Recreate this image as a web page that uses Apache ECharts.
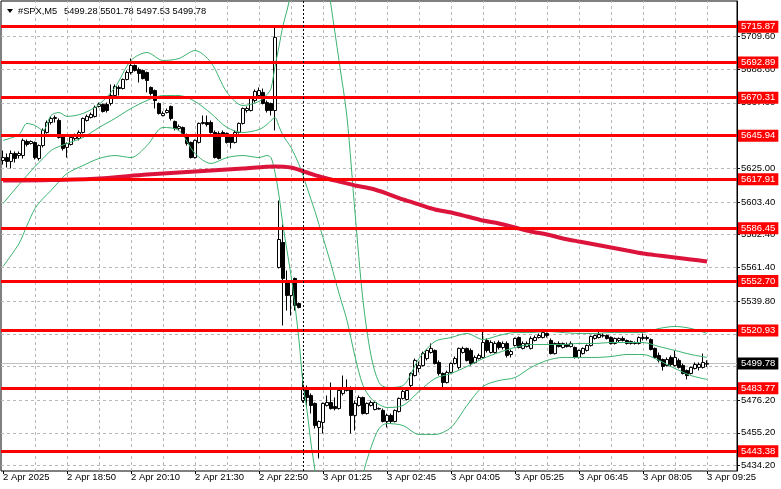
<!DOCTYPE html>
<html>
<head>
<meta charset="utf-8">
<script src="https://cdn.jsdelivr.net/npm/echarts@6/dist/echarts.min.js"></script>
<style>html,body{margin:0;padding:0;background:#fff}#c{width:781px;height:489px}</style>
</head>
<body>
<div id="c"></div>
<script>
// ---------- data ----------
const symbolName = '#SPX,M5';
const xTickLabels = ['2 Apr 2025','2 Apr 18:50','2 Apr 20:10','2 Apr 21:30','2 Apr 22:50','3 Apr 01:25','3 Apr 02:45','3 Apr 04:05','3 Apr 05:25','3 Apr 06:45','3 Apr 08:05','3 Apr 09:25'];
const yTickValues = [5709.60,5688.60,5667.00,5646.00,5625.00,5603.40,5582.40,5561.40,5539.80,5518.80,5497.80,5476.20,5455.20,5434.20];
const levels = [5715.87,5692.89,5670.31,5645.94,5617.91,5586.45,5552.70,5520.93,5483.77,5443.38];
const yMin = 5430.73, yMax = 5732.38;
const separatorBar = 75;
const chartShiftBars = 7;
const sessions = [{day:'2 Apr', start:17*60+30, bars:75},{day:'3 Apr', start:60, bars:102}];

const opens = [
5630.0,5631.9,5629.4,5634.5,5633.2,5633.2,5642.2,5640.9,5641.6,5631.3,
5639.6,5648.0,5654.4,5657.0,5655.7,5646.1,5638.4,5640.3,5644.1,5644.1,
5648.0,5655.7,5657.6,5658.3,5664.7,5666.0,5666.0,5666.6,5671.7,5676.9,
5676.2,5682.0,5686.5,5691.0,5688.4,5687.8,5686.5,5676.9,5674.9,5666.6,
5658.9,5660.8,5664.7,5655.0,5650.6,5651.2,5646.1,5641.6,5631.9,5641.6,
5653.8,5654.4,5654.4,5648.0,5647.3,5648.0,5647.3,5646.1,5641.6,5648.0,
5653.8,5662.1,5662.1,5668.5,5671.7,5673.7,5667.2,5666.6,5662.1,5561.3,
5577.4,5553.0,5543.4,5554.3,5538.2,5476.0,5483.7,5479.2,5474.1,5458.7,
5461.9,5472.8,5474.7,5472.1,5470.8,5480.5,5482.4,5484.3,5466.4,5472.8,
5477.9,5467.6,5472.8,5470.2,5470.8,5469.6,5462.5,5466.4,5462.5,5468.9,
5477.3,5476.6,5485.6,5492.0,5496.5,5498.4,5502.9,5506.8,5508.1,5500.4,
5493.3,5487.5,5494.0,5499.7,5497.2,5506.8,5509.4,5508.1,5500.4,5502.9,
5503.6,5514.5,5506.8,5506.8,5513.2,5510.0,5512.6,5505.5,5511.3,5516.4,
5509.4,5510.6,5509.4,5514.5,5516.4,5516.4,5519.0,5514.5,5506.1,5512.6,
5510.0,5511.9,5510.6,5510.0,5503.6,5506.1,5508.1,5511.3,5515.8,5516.4,
5517.7,5517.7,5516.4,5512.6,5514.5,5515.8,5514.5,5512.6,5513.2,5512.6,
5515.8,5516.4,5515.1,5509.4,5504.9,5502.3,5498.4,5503.6,5498.4,5501.7,
5498.4,5495.2,5493.3,5496.5,5497.2,5497.2,5499.28];
const closes = [
5631.9,5629.4,5634.5,5631.3,5634.5,5642.9,5640.3,5642.2,5631.9,5639.6,
5649.3,5654.4,5657.0,5657.6,5644.8,5637.7,5640.9,5644.8,5646.1,5648.0,
5657.0,5658.3,5659.5,5664.0,5666.0,5661.5,5662.1,5671.7,5677.5,5676.2,
5682.0,5686.5,5691.0,5687.8,5685.9,5682.6,5681.4,5673.0,5668.5,5660.2,
5660.2,5662.1,5657.0,5650.6,5651.8,5647.3,5640.9,5631.9,5642.9,5653.8,
5654.4,5653.1,5648.0,5631.9,5631.3,5646.1,5641.6,5641.6,5648.0,5653.8,
5663.4,5663.4,5669.8,5674.3,5674.9,5666.6,5662.1,5662.1,5709.0,5579.3,
5554.3,5543.4,5551.7,5537.0,5535.7,5484.3,5477.9,5472.8,5459.9,5462.5,
5474.1,5474.7,5470.8,5470.8,5482.4,5484.3,5484.3,5466.4,5474.1,5477.9,
5467.6,5474.1,5474.7,5474.7,5470.5,5462.5,5466.4,5462.5,5469.6,5477.3,
5481.8,5482.4,5493.3,5501.7,5498.4,5506.1,5508.1,5509.4,5499.7,5493.3,
5487.5,5494.0,5499.7,5502.9,5509.4,5509.4,5501.7,5499.7,5503.6,5504.9,
5513.2,5508.1,5513.2,5512.6,5510.0,5512.6,5504.9,5507.4,5515.8,5510.0,
5512.6,5512.6,5515.8,5516.4,5517.7,5519.6,5517.7,5506.1,5512.6,5510.6,
5512.6,5510.6,5512.6,5503.6,5508.1,5509.4,5511.3,5517.1,5517.7,5518.3,
5517.4,5515.8,5512.6,5515.8,5515.8,5514.5,5512.6,5513.9,5512.6,5516.4,
5516.4,5515.8,5508.7,5503.6,5501.7,5497.8,5502.3,5499.1,5503.6,5497.2,
5493.3,5492.0,5497.2,5499.1,5499.1,5500.4,5499.78];
const highs = [
5636.4,5634.5,5636.4,5635.8,5635.8,5644.1,5643.5,5642.9,5642.2,5640.3,
5650.6,5655.7,5658.3,5658.9,5657.0,5646.7,5641.6,5645.4,5647.3,5649.3,
5657.6,5659.5,5660.8,5665.3,5667.2,5666.6,5667.2,5678.8,5678.8,5678.2,
5682.6,5687.8,5695.5,5691.6,5689.7,5688.4,5687.1,5677.5,5675.6,5667.2,
5661.5,5663.4,5665.3,5655.7,5653.1,5651.8,5647.3,5642.2,5643.5,5654.4,
5658.9,5658.9,5655.7,5649.3,5648.7,5649.3,5648.0,5646.7,5649.3,5654.4,
5664.0,5664.7,5671.1,5675.6,5676.9,5676.2,5668.5,5667.2,5715.4,5604.3,
5588.9,5559.4,5553.0,5554.9,5538.9,5493.3,5485.6,5480.5,5474.7,5463.2,
5474.7,5479.2,5487.5,5477.9,5483.7,5492.0,5489.5,5485.0,5476.0,5479.2,
5478.5,5474.7,5476.0,5475.4,5471.5,5470.8,5467.6,5467.6,5470.2,5477.9,
5483.1,5483.7,5494.0,5502.9,5501.0,5507.4,5508.7,5512.6,5508.7,5501.7,
5494.0,5495.2,5500.4,5504.2,5510.0,5510.6,5510.0,5509.4,5504.9,5506.1,
5520.3,5515.8,5514.5,5513.9,5514.5,5513.9,5513.9,5508.7,5516.4,5517.1,
5513.9,5513.9,5517.1,5517.7,5519.0,5520.3,5519.6,5515.8,5513.2,5513.9,
5513.2,5513.2,5513.9,5510.6,5508.7,5510.0,5511.9,5517.7,5518.3,5520.3,
5519.0,5518.3,5517.1,5516.4,5516.4,5517.1,5515.1,5514.5,5513.9,5517.1,
5519.0,5517.7,5515.8,5510.0,5506.8,5502.9,5503.6,5504.9,5508.1,5502.9,
5499.7,5495.9,5497.8,5500.4,5500.4,5506.1,5501.78];
const lows = [
5627.4,5625.5,5624.9,5628.7,5631.3,5631.3,5639.0,5640.3,5630.7,5630.0,
5638.4,5647.3,5653.1,5654.4,5644.1,5636.4,5631.9,5639.6,5642.9,5642.9,
5647.3,5655.0,5657.0,5657.6,5664.0,5660.8,5660.8,5665.3,5671.1,5671.7,
5675.6,5681.4,5685.2,5687.1,5680.1,5682.0,5673.7,5671.7,5663.4,5659.5,
5658.3,5660.2,5655.7,5649.3,5649.3,5646.1,5639.6,5631.3,5631.3,5640.9,
5653.1,5651.8,5647.3,5631.3,5630.7,5645.4,5640.9,5637.7,5640.9,5647.3,
5653.1,5660.8,5661.5,5667.2,5671.1,5666.0,5660.8,5658.9,5649.3,5560.7,
5524.1,5533.7,5530.5,5533.7,5535.1,5474.7,5471.5,5467.6,5458.0,5438.8,
5454.8,5472.1,5470.2,5469.6,5470.2,5479.2,5481.8,5454.8,5456.7,5472.1,
5467.0,5467.0,5472.1,5469.6,5470.2,5461.9,5458.7,5461.2,5461.9,5468.3,
5476.6,5476.0,5484.3,5491.4,5494.0,5497.8,5501.7,5506.1,5499.1,5492.0,
5484.3,5486.9,5493.3,5499.1,5495.9,5506.1,5501.0,5498.4,5499.7,5502.3,
5502.9,5506.8,5506.1,5506.1,5508.7,5508.7,5503.6,5503.6,5510.6,5509.4,
5508.7,5510.0,5508.7,5513.9,5515.8,5515.8,5516.4,5505.5,5505.5,5510.0,
5509.4,5510.0,5510.0,5502.9,5502.9,5505.5,5507.4,5510.6,5515.1,5515.8,
5516.4,5515.1,5511.9,5511.9,5513.2,5513.9,5511.9,5511.9,5511.9,5511.9,
5514.5,5514.5,5508.1,5502.9,5500.4,5495.2,5497.8,5497.8,5497.8,5496.5,
5492.7,5489.5,5492.7,5495.9,5495.2,5496.5,5497.53];

// Bollinger bands read at sampled bars
const bbIndex = [0,4,6,8,10,12,14,16,20,24,28,32,36,40,44,48,52,56,60,64,
  66,67,68,69,70,71,72,73,74,75,76,77,78,79,80,82,84,86,88,90,92,94,96,
  100,104,108,112,116,120,124,128,132,136,140,144,148,152,156,160,164,168,172,176];
const bbUpper = [5642.9,5646.7,5653.8,5652.5,5649.3,5658.9,5660.8,5658.3,5660.2,5666.0,5676.9,5694.2,5699.3,5694.2,5695.5,5700.6,5692.9,5673.7,5665.3,5667.9,
  5672.4,5676.2,5690.3,5703.2,5716.7,5726.3,5737.8,5748.7,5758.4,5764.8,5768.0,5769.9,5769.9,5768.0,5764.8,5729.5,5694.2,5657.6,5596.6,5540.2,5504.9,5487.5,5484.3,
  5485.6,5502.9,5513.9,5516.4,5519.0,5515.1,5517.7,5519.6,5519.6,5520.3,5519.6,5519.0,5519.0,5519.6,5519.6,5519.6,5522.2,5523.5,5522.2,5519.0];
const bbMiddle = [5602.4,5614.6,5620.4,5626.2,5631.3,5636.4,5639.0,5640.9,5644.8,5651.2,5657.0,5663.4,5668.5,5671.7,5671.7,5667.9,5660.2,5651.2,5648.0,5649.9,
  5653.1,5655.7,5657.6,5651.8,5646.1,5642.2,5638.4,5633.2,5627.4,5620.4,5612.7,5605.0,5597.3,5588.9,5580.6,5563.3,5544.7,5527.3,5504.2,5485.6,5477.3,5473.4,5471.5,
  5472.8,5481.8,5490.1,5493.3,5497.8,5502.9,5506.8,5510.0,5511.9,5511.9,5511.9,5512.6,5512.6,5513.2,5513.2,5513.2,5510.6,5508.1,5505.5,5503.6];
const bbLower = [5562.0,5576.7,5588.3,5599.2,5605.6,5610.8,5616.5,5621.7,5626.8,5631.3,5633.2,5631.9,5639.6,5651.2,5649.3,5634.5,5628.1,5631.9,5633.2,5631.9,
  5633.2,5631.9,5622.3,5607.5,5588.3,5572.3,5556.2,5536.9,5514.5,5486.9,5469.6,5448.4,5431.1,5411.8,5395.8,5373.3,5363.7,5366.9,5386.1,5427.8,5445.8,5458.0,5461.2,
  5459.9,5454.2,5454.2,5458.7,5472.8,5485.0,5488.8,5490.7,5497.2,5501.7,5503.6,5503.6,5503.6,5504.2,5505.5,5505.5,5501.7,5496.5,5492.0,5489.5];

// Moving average read at sampled bars
const maIndex = [0,12,24,36,48,60,68,72,76,80,84,88,92,96,100,104,108,112,116,120,124,128,132,136,140,144,148,152,156,160,164,168,172,176];
const maValues = [5617.2,5617.5,5618.5,5621.0,5623.0,5624.9,5626.2,5625.5,5622.3,5619.1,5616.5,5614.0,5612.0,5608.8,5605.0,5601.8,5598.6,5596.6,5594.1,5591.5,5589.6,5587.0,5584.4,5582.5,5580.0,5578.0,5576.1,5574.2,5572.2,5570.3,5569.0,5567.8,5566.5,5565.2];

// ---------- build ----------
const pad = n => (n < 10 ? '0' : '') + n;
const categories = [];
sessions.forEach((s, k) => {
  const n = s.bars + (k === sessions.length - 1 ? chartShiftBars : 0);
  for (let j = 0; j < n; j++) {
    const m = s.start + 5 * j;
    categories.push(s.day + ' ' + pad(Math.floor(m / 60) % 24) + ':' + pad(m % 60));
  }
});
const nBars = opens.length;
const candleData = opens.map((o, i) => [o, closes[i], lows[i], highs[i]]);
const sampled = (idx, vals) => idx.map((i, k) => [categories[i], vals[k]]);
const last = nBars - 1;
const lastClose = closes[last];
const FONT = 'Liberation Sans';
const AX = 9.5;
// the tick label sitting under the current-price box is not drawn
const yLabelValues = yTickValues.filter(v => Math.abs(v - lastClose) > 3);

const gridItems = yTickValues.map(v => ({yAxis: v, lineStyle: {color: '#b8b8b8', type: [3, 3], width: 1}}));
for (let i = 8; i < nBars; i += 8) gridItems.push({xAxis: categories[i], lineStyle: {color: '#b8b8b8', type: [3, 3], width: 1}});
gridItems.push({yAxis: lastClose, lineStyle: {color: '#c0c0c0', type: 'solid', width: 1}});

const boxLabel = (bg) => ({show: true, position: 'end', distance: 1, formatter: p => Number(p.value).toFixed(2),
  color: '#fff', backgroundColor: bg, fontFamily: FONT, fontSize: AX, lineHeight: 11, padding: [1, 3, 0, 3]});
const topItems = levels.map(v => ({yAxis: v, lineStyle: {color: '#ff0000', width: 3, type: 'solid'}, label: boxLabel('#ff0000')}));
topItems.push({yAxis: lastClose, lineStyle: {color: 'rgba(0,0,0,0)', width: 1, type: 'solid'}, label: boxLabel('#000000')});
topItems.push({xAxis: categories[separatorBar], lineStyle: {color: '#000', width: 1, type: [2, 2]}, label: {show: false}});

const bbLine = (name, vals) => ({
  name, type: 'line', data: sampled(bbIndex, vals), smooth: 0.3, showSymbol: false, symbol: 'none',
  lineStyle: {color: '#3CB371', width: 1}, z: 3, silent: true, clip: true
});

const chart = echarts.init(document.getElementById('c'), null, {renderer: 'canvas'});
chart.setOption({
  animation: false,
  backgroundColor: '#fff',
  grid: {left: 1, top: 1, width: 736, height: 470, show: true, borderColor: '#000', borderWidth: 1, backgroundColor: '#fff'},
  xAxis: {
    type: 'category', data: categories, boundaryGap: true,
    axisLine: {show: false},
    axisTick: {show: true, alignWithLabel: true, length: 3, interval: i => i % 16 === 0 && i < nBars, lineStyle: {color: '#000'}},
    axisLabel: {interval: i => i % 16 === 0 && i < nBars, formatter: (v, i) => xTickLabels[i / 16] || '',
      align: 'left', margin: 1, color: '#000', fontFamily: FONT, fontSize: AX, lineHeight: 11},
    splitLine: {show: false}
  },
  yAxis: {
    type: 'value', position: 'right', min: yMin, max: yMax, scale: true,
    axisLine: {show: true, lineStyle: {color: '#000'}},
    axisTick: {show: true, length: 3, customValues: yTickValues, lineStyle: {color: '#000'}},
    axisLabel: {customValues: yLabelValues, formatter: v => v.toFixed(2), margin: 4, color: '#000', fontFamily: FONT, fontSize: AX},
    splitLine: {show: false}
  },
  graphic: [
    {type: 'polygon', shape: {points: [[7, 9], [13, 9], [10, 13]]}, style: {fill: '#000'}},
    {type: 'text', x: 18, y: 11, style: {text: symbolName, fontFamily: FONT, fontSize: 9.3, fill: '#000', verticalAlign: 'middle'}},
    {type: 'text', x: 64, y: 11, style: {text: [opens[last], highs[last], lows[last], closes[last]].map(v => v.toFixed(2)).join(' '),
      fontFamily: FONT, fontSize: 9.3, fill: '#000', verticalAlign: 'middle'}}
  ],
  series: [
    {
      name: 'SPX', type: 'candlestick', data: candleData, barWidth: 3, z: 2, silent: true,
      itemStyle: {color: '#ffffff', color0: '#000000', borderColor: '#000000', borderColor0: '#000000', borderColorDoji: '#000000', borderWidth: 1},
      markLine: {silent: true, symbol: ['none', 'none'], z: 1, animation: false, label: {show: false}, data: gridItems}
    },
    bbLine('BB upper', bbUpper),
    bbLine('BB middle', bbMiddle),
    bbLine('BB lower', bbLower),
    {
      name: 'MA', type: 'line', data: sampled(maIndex, maValues), smooth: 0.3, showSymbol: false, symbol: 'none',
      lineStyle: {color: '#DC143C', width: 4}, z: 4, silent: true,
      markLine: {silent: true, symbol: ['none', 'none'], z: 6, animation: false, data: topItems}
    }
  ]
});
</script>
</body>
</html>
